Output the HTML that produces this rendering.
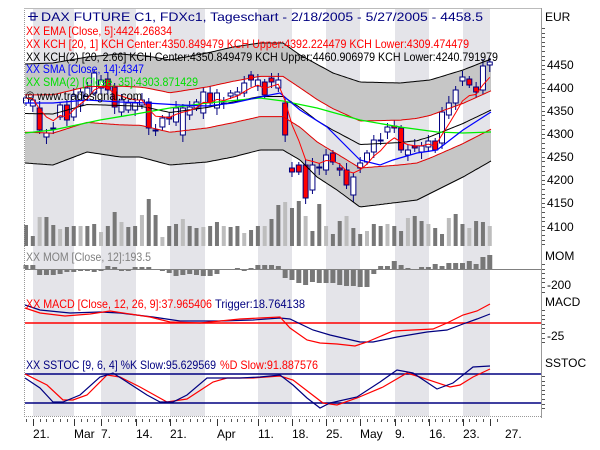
<!DOCTYPE html>
<html><head><meta charset="utf-8"><style>
html,body{margin:0;padding:0;background:#fff;}
svg{display:block;}
text{font-family:"Liberation Sans",sans-serif;font-size:12px;}
</style></head><body>
<svg id="s" width="600" height="450" xmlns="http://www.w3.org/2000/svg">
<g id="stripes"></g>
<g id="band"></g>
<g id="vol"></g>
<g id="lines"></g>
<g id="cand"></g>
<g id="mom"></g>
<g id="osc"></g>
<line x1="24.5" y1="8" x2="24.5" y2="417" stroke="#999" stroke-dasharray="1,1"/>
<line x1="24" y1="8.5" x2="541" y2="8.5" stroke="#bbb"/>
<line x1="24" y1="416.5" x2="541" y2="416.5" stroke="#999" stroke-dasharray="1,1"/>
<line x1="541.5" y1="8" x2="541.5" y2="418" stroke="#999"/>
<g id="ticks"></g>
<g>
<rect x="31" y="13" width="4" height="7" fill="none" stroke="#000080"/><line x1="28" y1="16.5" x2="38" y2="16.5" stroke="#000080"/>
<text x="41" y="21" fill="#000080" textLength="442" lengthAdjust="spacingAndGlyphs">DAX FUTURE C1, FDXc1, Tageschart - 2/18/2005 - 5/27/2005 - 4458.5</text>
<text x="26" y="35" fill="#ff0000" textLength="146" lengthAdjust="spacingAndGlyphs">XX EMA [Close, 5]:4424.26834</text>
<text x="26" y="48" fill="#ff0000" textLength="443" lengthAdjust="spacingAndGlyphs">XX KCH [20, 1] KCH Center:4350.849479 KCH Upper:4392.224479 KCH Lower:4309.474479</text>
<text x="26" y="61" fill="#000" textLength="472" lengthAdjust="spacingAndGlyphs">XX KCH(2) [20, 2.66] KCH Center:4350.849479 KCH Upper:4460.906979 KCH Lower:4240.791979</text>
<text x="26" y="73" fill="#0000ff" textLength="118" lengthAdjust="spacingAndGlyphs">XX SMA [Close, 14]:4347</text>
<text x="26" y="86" fill="#00e000" textLength="172" lengthAdjust="spacingAndGlyphs">XX SMA(2) [Close, 35]:4303.871429</text>
<text x="26" y="100" fill="#000" textLength="116" lengthAdjust="spacingAndGlyphs">© www.tradesignal.com</text>
<text x="26" y="261" fill="#808080" textLength="125" lengthAdjust="spacingAndGlyphs">XX MOM [Close, 12]:193.5</text>
<text x="26" y="308" fill="#ff0000" textLength="186" lengthAdjust="spacingAndGlyphs">XX MACD [Close, 12, 26, 9]:37.965406</text>
<text x="215" y="308" fill="#000080" textLength="90" lengthAdjust="spacingAndGlyphs">Trigger:18.764138</text>
<text x="26" y="369" fill="#000080" textLength="190" lengthAdjust="spacingAndGlyphs">XX SSTOC [9, 6, 4] %K Slow:95.629569</text>
<text x="220" y="369" fill="#ff0000" textLength="98" lengthAdjust="spacingAndGlyphs">%D Slow:91.887576</text>
</g>
<g fill="#000">
<text x="545" y="21">EUR</text>
<text x="547" y="69">4450</text><text x="547" y="92">4400</text><text x="547" y="115">4350</text><text x="547" y="138">4300</text>
<text x="547" y="161">4250</text><text x="547" y="184">4200</text><text x="547" y="207">4150</text><text x="547" y="231">4100</text>
<text x="545" y="260">MOM</text><text x="547" y="289">-200</text>
<text x="545" y="306">MACD</text><text x="547" y="340">-25</text>
<text x="545" y="367">SSTOC</text>
<text x="33" y="438">21.</text><text x="74" y="438">Mar</text><text x="101" y="438">7.</text><text x="136" y="438">14.</text>
<text x="170" y="438">21.</text><text x="217" y="438">Apr</text><text x="258" y="438">11.</text><text x="292" y="438">18.</text>
<text x="326" y="438">25.</text><text x="360" y="438">May</text><text x="395" y="438">9.</text><text x="429" y="438">16.</text>
<text x="463" y="438">23.</text><text x="505" y="438">27.</text>
</g>
</svg>
<script>
var NS="http://www.w3.org/2000/svg";
function el(p,t,a){var e=document.createElementNS(NS,t);for(var k in a)e.setAttribute(k,a[k]);document.getElementById(p).appendChild(e);return e;}
[[33,74],[101,136],[170,205],[258,292],[326,360],[395,429],[463,490]].forEach(function(s){el("stripes","rect",{x:s[0],y:9,width:s[1]-s[0],height:407,fill:"#e4e4e9"});});
function interp(P,x){for(var i=0;i<P.length-1;i++){if(x<=P[i+1][0]){var t=(x-P[i][0])/(P[i+1][0]-P[i][0]);return P[i][1]+t*(P[i+1][1]-P[i][1]);}}return P[P.length-1][1];}
var U=[[25,64],[53,63],[87,57],[120,54],[147,56],[170,60],[207,53],[233,47],[260,43],[283,43],[300,55],[333,73],[360,82],[400,83],[430,80],[463,70],[491,59]];
var L=[[25,163],[53,165],[87,152],[120,157],[140,157],[170,165],[207,162],[233,157],[260,150],[283,150],[300,160],[317,177],[337,190],[360,207],[417,200],[437,190],[463,177],[491,161]];
var xs=[];for(var x=25;x<=491;x+=2)xs.push(x);
var u=[],l=[],ru=[],rl=[],c=[];
xs.forEach(function(x){var a=interp(U,x),b=interp(L,x),m=(a+b)/2,h=(b-a)/2;u.push([x,a]);l.push([x,b]);c.push([x,m]);ru.push([x,m-h/2.66]);rl.push([x,m+h/2.66]);});
function ps(A){return A.map(function(p){return p[0].toFixed(1)+","+p[1].toFixed(1);}).join(" ");}
el("band","polygon",{points:ps(u)+" "+ps(ru.slice().reverse()),fill:"#c6c6c6"});
el("band","polygon",{points:ps(rl)+" "+ps(l.slice().reverse()),fill:"#c6c6c6"});
var vh=[21,10,29,29,21,17,19,20,20,20,22,14,20,34,24,19,20,31,47,31,9,20,22,27,20,18,19,20,24,20,19,20,13,16,20,20,27,41,44,38,45,30,15,42,20,12,25,30,18,12,15,22,20,22,20,15,28,30,25,22,18,12,28,32,22,18,25,24,20];
var X0=26,DX=6.82;
vh.forEach(function(h,i){var d=(i*5+3)%3!=1;el("vol","rect",{x:X0+DX*i-2,y:246-h,width:4,height:h,fill:d?"#777":"#bdbdbd"});});
el("lines","polyline",{points:ps(u),fill:"none",stroke:"#000",'stroke-width':1});
el("lines","polyline",{points:ps(l),fill:"none",stroke:"#000",'stroke-width':1});
el("lines","polyline",{points:ps(c),fill:"none",stroke:"#000",'stroke-width':1});
el("lines","polyline",{points:ps(ru),fill:"none",stroke:"#e00000",'stroke-width':1});
el("lines","polyline",{points:ps(rl),fill:"none",stroke:"#e00000",'stroke-width':1});
var G=[[25,133],[53,130],[100,120],[130,115],[170,108],[207,103],[260,98],[283,101],[317,108],[360,120],[400,127],[437,132],[463,133],[491,132]];
el("lines","polyline",{points:ps(G),fill:"none",stroke:"#00ee00",'stroke-width':1.3});
var B=[[25,103],[53,103],[87,100],[120,102],[147,103],[180,105],[207,106],[233,103],[260,97],[280,93],[300,110],[327,127],[360,160],[380,165],[393,160],[417,153],[437,150],[463,130],[491,112]];
el("lines","polyline",{points:ps(B),fill:"none",stroke:"#0000ff",'stroke-width':1.2});
var C=[[98,103,'W'],[100,106,'W'],[108,130,'R'],[133,137,'W'],[128,129,'D'],[105,117,'W'],[105,120,'R'],[95,117,'W'],[92,105,'W'],[88,96,'W'],[73,93,'W'],[80,88,'W'],[79,90,'R'],[87,107,'R'],[100,112,'W'],[103,110,'W'],[103,110,'W'],[100,105,'W'],[102,128,'R'],[130,131,'D'],[118,127,'W'],[117,119,'R'],[108,122,'W'],[108,135,'W'],[107,115,'W'],[102,108,'W'],[92,113,'W'],[93,103,'R'],[93,108,'W'],[103,104,'D'],[93,96,'W'],[92,95,'W'],[83,93,'W'],[75,80,'R'],[80,86,'W'],[82,95,'R'],[78,82,'R'],[80,88,'W'],[103,135,'R'],[168,172,'R'],[165,172,'R'],[165,198,'R'],[165,190,'W'],[167,168,'D'],[155,170,'W'],[153,162,'R'],[168,170,'R'],[170,185,'R'],[177,195,'W'],[163,168,'W'],[153,162,'W'],[140,152,'W'],[140,141,'D'],[127,132,'W'],[126,128,'R'],[128,150,'R'],[150,155,'W'],[146,148,'R'],[146,152,'W'],[141,147,'W'],[141,150,'R'],[112,143,'W'],[103,115,'W'],[90,103,'W'],[77,81,'W'],[79,85,'R'],[87,92,'R'],[66,90,'W'],[62,65,'W']];
var closes=[],ema=[];
C.forEach(function(d,i){var x=X0+DX*i;var wt=d[0]-3-(i*7%5),wb=d[1]+3+(i*3%5);
el("cand","line",{x1:x,y1:wt,x2:x,y2:wb,stroke:"#000080",'stroke-width':1});
if(d[2]=='D'){el("cand","line",{x1:x-3,y1:d[0]+.5,x2:x+3,y2:d[0]+.5,stroke:"#000080",'stroke-width':2});}
else el("cand","rect",{x:x-2.5,y:d[0],width:5,height:Math.max(1,d[1]-d[0]),fill:d[2]=='W'?"#fff":"#ff0000",stroke:"#000080",'stroke-width':1});
closes.push(d[2]=='R'?d[1]:d[0]);});
var e=closes[0];closes.forEach(function(v,i){e=e+(v-e)/3;ema.push([X0+DX*i,e]);});
el("lines","polyline",{points:ps(ema),fill:"none",stroke:"#ff0000",'stroke-width':1});
document.getElementById("lines").parentNode.insertBefore(document.getElementById("cand"),document.getElementById("lines"));
var M=[-4,-4,5,5,5,4,2,2,1,1,2,1,-3,-2,1,1,-2,-2,-2,0,1,3,6,5,4,5,6,6,4,0,0,-1,1,-1,-4,-4,-4,-3,8,10,13,15,12,13,13,13,15,16,16,17,17,4,-3,-3,-8,-4,-1,0,-2,-2,-5,-3,-6,-6,-6,-8,-5,-12,-14];
el("mom","line",{x1:25,y1:269.5,x2:541,y2:269.5,stroke:"#808080"});
M.forEach(function(v,i){var x=X0+DX*i;if(v==0)return;el("mom","rect",{x:x-2.5,y:v<0?269+v:270,width:5,height:Math.abs(v),fill:"#777"});});
el("osc","line",{x1:25,y1:323,x2:541,y2:323,stroke:"#ff0000",'stroke-width':1.5});
el("osc","line",{x1:25,y1:374,x2:541,y2:374,stroke:"#000080",'stroke-width':1.5});
el("osc","line",{x1:25,y1:403,x2:541,y2:403,stroke:"#000080",'stroke-width':1.5});
var MR=[[25,308],[40,313],[65,316],[90,314],[110,311],[130,314],[150,317],[170,322],[200,323],[220,321],[240,319],[260,318],[280,317],[290,328],[307,340],[320,343],[337,344],[355,346],[367,342],[393,331],[413,330],[433,329],[447,323],[463,315],[477,311],[490,304]];
var MN=[[25,305],[40,310],[70,313],[100,312],[120,313],[153,317],[180,321],[220,321],[253,320],[280,318],[290,319],[313,330],[330,335],[360,342],[373,342],[397,337],[427,332],[447,330],[463,324],[477,319],[490,314]];
el("osc","polyline",{points:ps(MN),fill:"none",stroke:"#000080",'stroke-width':1.2});
el("osc","polyline",{points:ps(MR),fill:"none",stroke:"#ff0000",'stroke-width':1.2});
var K=[[25,378],[40,388],[53,402],[63,402],[80,395],[100,377],[113,373],[127,382],[147,395],[160,402],[173,402],[187,395],[207,378],[220,378],[240,378],[260,377],[280,375],[293,385],[307,398],[320,408],[330,403],[357,397],[380,382],[397,370],[413,373],[437,389],[453,383],[473,367],[490,366]];
var D=[[25,374],[47,385],[63,400],[73,400],[87,395],[107,375],[120,377],[140,387],[167,402],[187,399],[213,382],[227,378],[253,378],[280,376],[293,380],[323,403],[337,405],[357,398],[383,387],[407,373],[420,377],[450,387],[460,385],[473,377],[490,369]];
el("osc","polyline",{points:ps(D),fill:"none",stroke:"#ff0000",'stroke-width':1.2});
el("osc","polyline",{points:ps(K),fill:"none",stroke:"#000080",'stroke-width':1.2});
for(var i=0;i<70;i++){var x=Math.round(X0+DX*i)+0.5;el("ticks","line",{x1:x,y1:419,x2:x,y2:422,stroke:"#555"});}
[33,74,101,136,170,217,258,292,326,360,395,429,463,490].forEach(function(x){el("ticks","line",{x1:x+.5,y1:419,x2:x+.5,y2:426,stroke:"#333"});});
function rt(a,b){for(var y=a;y<=b;y+=4.6){el("ticks","line",{x1:542,y1:Math.round(y)+.5,x2:545,y2:Math.round(y)+.5,stroke:"#555"});}}
rt(28,246);rt(264,292);rt(310,346);rt(376,412);
</script>
</body></html>
